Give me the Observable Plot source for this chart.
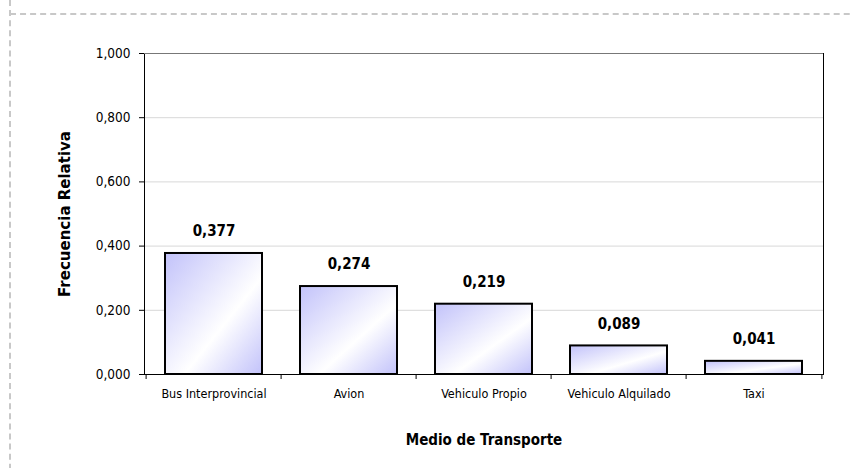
<!DOCTYPE html>
<html>
<head>
<meta charset="utf-8">
<script src="https://cdn.jsdelivr.net/npm/d3@7"></script>
<script src="https://cdn.jsdelivr.net/npm/@observablehq/plot@0.6"></script>
<style>
  html, body { margin: 0; padding: 0; background: #fff; }
  #wrap { position: relative; width: 851px; height: 468px; overflow: hidden; }
  #bt { position: absolute; left: 10px; top: 13px; width: 900px; height: 0; border-top: 2px dashed #c8c8c8; }
  #bl { position: absolute; left: 9px; top: 0; width: 0; height: 500px; border-left: 2px dashed #c8c8c8; }
  #chart { position: absolute; left: 0; top: 0; }
</style>
</head>
<body>
<div id="wrap"><div id="bt"></div><div id="bl"></div><div id="chart"></div></div>
<script>
const categories = ["Bus Interprovincial", "Avion", "Vehiculo Propio", "Vehiculo Alquilado", "Taxi"];
const values = [0.377, 0.274, 0.219, 0.089, 0.041];
const yTicks = [0, 0.2, 0.4, 0.6, 0.8, 1.0];
const yTitle = "Frecuencia Relativa";
const xTitle = "Medio de Transporte";

const data = categories.map((c, i) => ({cat: c, val: values[i]}));
const locale = d3.formatLocale({decimal: ",", thousands: ".", grouping: [3], currency: ["", ""]});
const fmt = locale.format(".3f");

const W = 851, H = 468, ML = 144, MR = 28, MT = 53, MB = 94;
const step = (W - ML - MR) / categories.length;

const defs = () => {
  const ns = "http://www.w3.org/2000/svg";
  const d = document.createElementNS(ns, "defs");
  const g = document.createElementNS(ns, "linearGradient");
  g.setAttribute("id", "barGrad");
  g.setAttribute("x1", "0"); g.setAttribute("y1", "0");
  g.setAttribute("x2", "1"); g.setAttribute("y2", "1");
  [["0", "#c2c2fa"], ["0.6", "#ffffff"], ["1", "#c2c2fa"]].forEach(([o, c]) => {
    const s = document.createElementNS(ns, "stop");
    s.setAttribute("offset", o); s.setAttribute("stop-color", c);
    g.appendChild(s);
  });
  d.appendChild(g);
  return d;
};

const chart = Plot.plot({
  width: W, height: H,
  marginLeft: ML, marginRight: MR, marginTop: MT, marginBottom: MB,
  style: {background: "transparent", color: "#000"},
  x: {domain: categories, paddingInner: 0.285, paddingOuter: 0.1425},
  y: {domain: [0, 1]},
  marks: [
    defs,
    Plot.ruleY(yTicks.filter(t => t > 0 && t < 1), {stroke: "#d8d8d8", strokeWidth: 1}),
    Plot.barY(data, {x: "cat", y: "val", fill: "url(#barGrad)", stroke: "#000", strokeWidth: 2}),
    Plot.text(data, {x: "cat", y: "val", text: d => fmt(d.val), dy: -22,
      fontFamily: "'DejaVu Sans Condensed', 'DejaVu Sans'", fontWeight: "bold", fontSize: 15, fill: "#000"}),
    Plot.frame({stroke: "#000", strokeWidth: 1}),
    Plot.ruleY([1], {stroke: "#777", strokeWidth: 1}),
    Plot.axisY({ticks: yTicks, tickFormat: fmt, tickSize: 5, tickPadding: 9, label: null,
      fontFamily: "'DejaVu Sans Condensed', 'DejaVu Sans'", fontSize: 13.5}),
    Plot.axisX({tickSize: 5, dx: -step / 2, tickFormat: () => "", label: null}),
    Plot.axisX({ticks: [categories[categories.length - 1]], tickSize: 5, dx: step / 2, tickFormat: () => "", label: null}),
    Plot.axisX({tickSize: 0, tickPadding: 15, label: null,
      fontFamily: "'Liberation Sans Narrow', 'DejaVu Sans Condensed', sans-serif", fontSize: 12.5}),
    Plot.text([yTitle], {frameAnchor: "left", dx: -79, rotate: -90, text: d => d,
      textAnchor: "middle", lineAnchor: "middle",
      fontFamily: "DejaVu Sans", fontWeight: "bold", fontSize: 15, fill: "#000"}),
    Plot.text([xTitle], {frameAnchor: "bottom", dy: 66, text: d => d,
      textAnchor: "middle", lineAnchor: "middle",
      fontFamily: "'DejaVu Sans Condensed', 'DejaVu Sans'", fontWeight: "bold", fontSize: 15, fill: "#000"})
  ]
});
document.getElementById("chart").appendChild(chart);
</script>
</body>
</html>
